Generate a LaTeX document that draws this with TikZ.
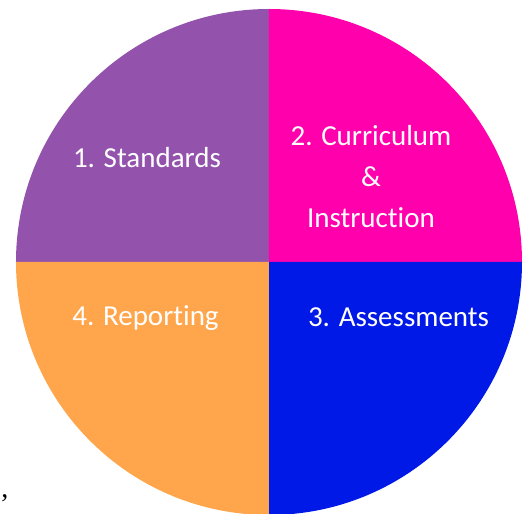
\documentclass[tikz,border=0pt]{standalone}
\usepackage{fontspec}
\setmainfont{Carlito}[Ligatures=NoCommon]
\newfontfamily\commafont{Liberation Serif}
\definecolor{stdpurple}{RGB}{147,83,172}
\definecolor{curpink}{RGB}{255,0,172}
\definecolor{assblue}{RGB}{0,25,230}
\definecolor{reporange}{RGB}{255,166,77}
\tikzset{
  wheellabel/.style={text=white, align=center, inner sep=0pt, anchor=base, font=\fontsize{29}{41}\selectfont},
  strayfont/.style={inner sep=0pt, anchor=base, font=\commafont\fontsize{28}{30}\selectfont}
}

\begin{document}
\begin{tikzpicture}[x=1pt,y=1pt]
\useasboundingbox (-269,-252) rectangle (259,262);
% four quarters of the wheel
\fill[stdpurple] (0,0) -- (-253,0) arc[start angle=180,end angle=90,radius=253] -- cycle;
\fill[curpink] (0,0) -- (0,253) arc[start angle=90,end angle=0,radius=253] -- cycle;
\fill[assblue] (0,0) -- (253,0) arc[start angle=0,end angle=-90,radius=253] -- cycle;
\fill[reporange] (0,0) -- (0,-253) arc[start angle=-90,end angle=-180,radius=253] -- cycle;

\node[wheellabel] (standards) at (-122,94) {1. Standards};
% base anchor sits on the last line here
\node[wheellabel] (curriculum) at (102,34) {2. Curriculum\\\&\\Instruction};
\node[wheellabel] (assessments) at (129.5,-65) {3. Assessments};
\node[wheellabel] (reporting) at (-123.5,-64) {4. Reporting};

\node[strayfont] (stray) at (-264,-235) {,};
\end{tikzpicture}
\end{document}
